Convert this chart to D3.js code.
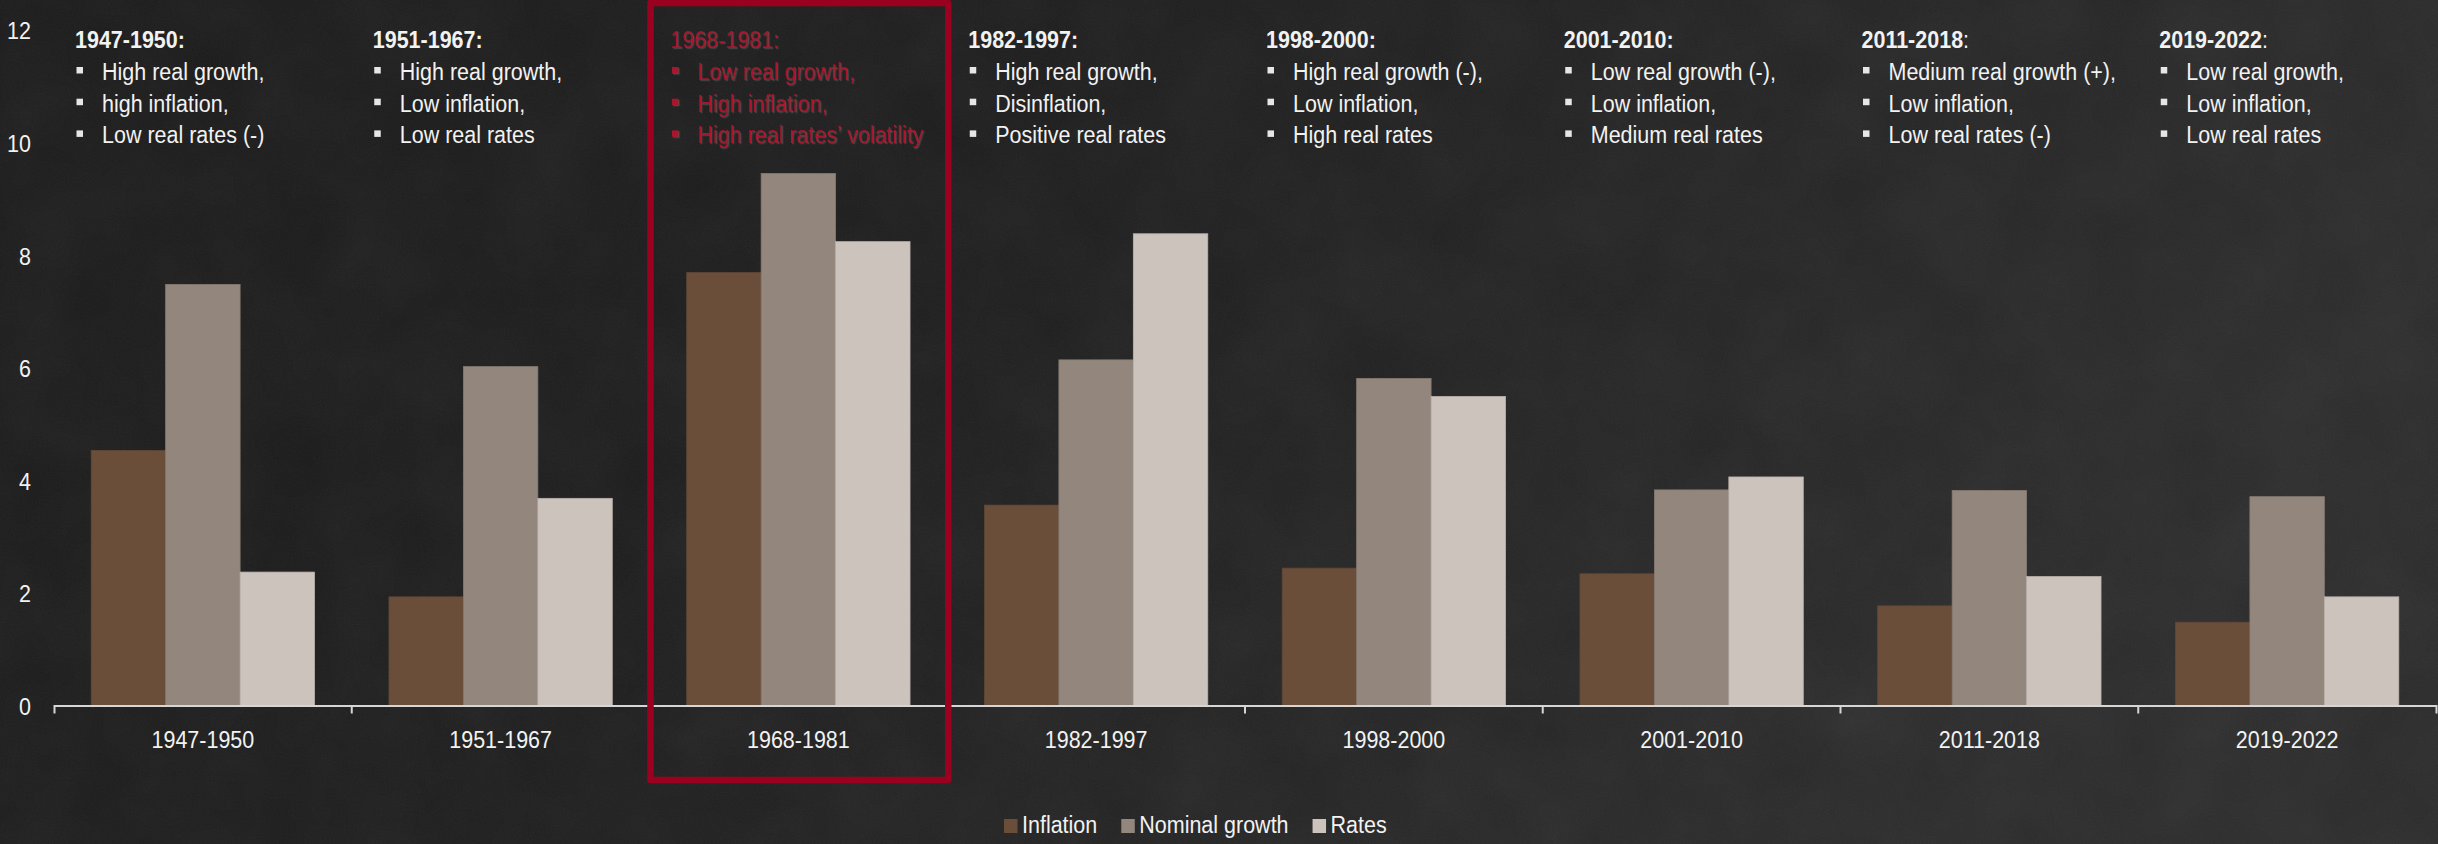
<!DOCTYPE html>
<html>
<head>
<meta charset="utf-8">
<script src="https://cdn.jsdelivr.net/npm/d3@7"></script>
<style>
  html, body { margin: 0; padding: 0; background: #1e1e1e; }
  svg { display: block; }
  text { font-family: "Liberation Sans", Arial, Helvetica, sans-serif; }
</style>
</head>
<body>
<script>
// ---- Data ----
const periods = ["1947-1950", "1951-1967", "1968-1981", "1982-1997",
                 "1998-2000", "2001-2010", "2011-2018", "2019-2022"];
const seriesNames = ["Inflation", "Nominal growth", "Rates"];
const inflation     = [4.53, 1.93, 7.69, 3.56, 2.44, 2.34, 1.77, 1.48];
const nominalGrowth = [7.48, 6.02, 9.45, 6.14, 5.81, 3.83, 3.82, 3.71];
const rates         = [2.37, 3.68, 8.24, 8.38, 5.49, 4.06, 2.29, 1.93];
const yTicks = [0, 2, 4, 6, 8, 10, 12];

// Regime description for each period
const headerColonBold = [true, true, false, true, true, true, false, false];
const notes = [
  ["High real growth,", "high inflation,", "Low real rates (-)"],
  ["High real growth,", "Low inflation,", "Low real rates"],
  ["Low real growth,", "High inflation,", "High real rates\u2019 volatility"],
  ["High real growth,", "Disinflation,", "Positive real rates"],
  ["High real growth (-),", "Low inflation,", "High real rates"],
  ["Low real growth (-),", "Low inflation,", "Medium real rates"],
  ["Medium real growth (+),", "Low inflation,", "Low real rates (-)"],
  ["Low real growth,", "Low inflation,", "Low real rates"]
];
const highlighted = "1968-1981";

const seriesValues = [inflation, nominalGrowth, rates];
const colors = ["#6b4e3a", "#93877d", "#cdc3bd"];

// ---- Layout ----
const W = 2438, H = 844;
const FS = 21.5;          // font size
const STRETCH = 1.15;     // tall type
const FONT = "Liberation Sans, Arial, sans-serif";
const textCol = "#f2f2f2";
const red = "#9c0021";
const redText = "#a8122d";

const svg = d3.select("body").append("svg")
  .attr("width", W).attr("height", H);

const defs = svg.append("defs");
const bg = defs.append("linearGradient").attr("id", "bg")
  .attr("x1", "0").attr("y1", "0").attr("x2", "1").attr("y2", "0.3");
bg.append("stop").attr("offset", "0").attr("stop-color", "#191919");
bg.append("stop").attr("offset", "0.45").attr("stop-color", "#1c1c1c");
bg.append("stop").attr("offset", "1").attr("stop-color", "#2a2a2a");

const grain = defs.append("filter").attr("id", "grain")
  .attr("x", 0).attr("y", 0).attr("width", "100%").attr("height", "100%");
grain.append("feTurbulence").attr("type", "fractalNoise")
  .attr("baseFrequency", 0.75).attr("numOctaves", 3).attr("seed", 7);
grain.append("feColorMatrix").attr("type", "saturate").attr("values", 0);

const mottle = defs.append("filter").attr("id", "mottle")
  .attr("x", 0).attr("y", 0).attr("width", "100%").attr("height", "100%");
mottle.append("feTurbulence").attr("type", "fractalNoise")
  .attr("baseFrequency", 0.012).attr("numOctaves", 3).attr("seed", 3);
mottle.append("feColorMatrix").attr("type", "saturate").attr("values", 0);

const shadow = defs.append("filter").attr("id", "redshadow")
  .attr("x", "-5%").attr("y", "-20%").attr("width", "110%").attr("height", "140%");
shadow.append("feDropShadow").attr("dx", 1.2).attr("dy", 1.2)
  .attr("stdDeviation", 0.4).attr("flood-color", "#9a9a9a").attr("flood-opacity", 0.25);

svg.append("rect").attr("width", W).attr("height", H).attr("fill", "url(#bg)");
svg.append("rect").attr("width", W).attr("height", H)
  .attr("filter", "url(#mottle)").attr("opacity", 0.05);
svg.append("rect").attr("width", W).attr("height", H)
  .attr("filter", "url(#grain)").attr("opacity", 0.06);

// ---- Scales ----
const x0 = d3.scaleBand().domain(periods).range([54, 2436])
  .paddingInner(0.25).paddingOuter(0.125);
const x1 = d3.scaleBand().domain(seriesNames).range([0, x0.bandwidth()]);
const y = d3.scaleLinear().domain([0, 12]).range([705.5, 30]);
const groupStart = p => x0(p) - x0.step() * x0.paddingInner() / 2;

// ---- Bars ----
const groups = svg.append("g").selectAll("g").data(periods).join("g")
  .attr("transform", p => `translate(${x0(p)},0)`);
groups.selectAll("rect")
  .data((p, i) => seriesNames.map((s, k) => ({ s, k, v: seriesValues[k][i] })))
  .join("rect")
  .attr("x", d => x1(d.s))
  .attr("y", d => y(d.v))
  .attr("width", x1.bandwidth())
  .attr("height", d => y(0) - y(d.v))
  .attr("fill", d => colors[d.k])
  .attr("stroke", d => d3.color(colors[d.k]).darker(0.25))
  .attr("stroke-width", 0.8);

// ---- Y axis (labels only) ----
const yAxis = svg.append("g").attr("transform", "translate(31,0)")
  .call(d3.axisLeft(y).tickValues(yTicks).tickSize(0).tickPadding(0));
yAxis.select(".domain").remove();
yAxis.selectAll("text")
  .attr("fill", textCol).attr("font-size", FS).attr("font-family", FONT)
  .attr("x", 0).attr("dy", "0.36em")
  .attr("transform", `scale(1,${STRETCH})`);

// ---- X axis ----
const xAxis = svg.append("g").attr("transform", `translate(0,${y(0)})`)
  .call(d3.axisBottom(x0).tickSize(0).tickSizeOuter(8));
xAxis.select(".domain").attr("stroke", "#d6d6d6").attr("stroke-width", 2);
xAxis.selectAll(".tick text")
  .attr("fill", textCol).attr("font-size", FS).attr("font-family", FONT)
  .attr("y", 0).attr("dy", 0)
  .attr("transform", `translate(0,42) scale(1,${STRETCH})`);
// boundary ticks between periods
xAxis.append("g").selectAll("line").data(periods.slice(1)).join("line")
  .attr("x1", p => groupStart(p)).attr("x2", p => groupStart(p))
  .attr("y1", 0).attr("y2", 8)
  .attr("stroke", "#d6d6d6").attr("stroke-width", 2);

// ---- Regime notes ----
const notesG = svg.append("g");
periods.forEach((p, i) => {
  const isHi = p === highlighted;
  const col = isHi ? redText : textCol;
  const gx = groupStart(p);
  const g = notesG.append("g").attr("filter", isHi ? "url(#redshadow)" : null);

  const head = g.append("text")
    .attr("transform", `translate(${gx + 21},47.5) scale(1,${STRETCH})`)
    .attr("font-size", FS).attr("fill", col);
  head.append("tspan").attr("font-weight", isHi ? "normal" : "bold").text(p);
  head.append("tspan").attr("font-weight", headerColonBold[i] ? "bold" : "normal").text(":");

  notes[i].forEach((line, j) => {
    const base = 80 + j * 31.7;
    g.append("rect")
      .attr("x", gx + 22.5).attr("y", base - 13)
      .attr("width", 6.5).attr("height", 6.5)
      .attr("fill", isHi ? redText : "#e6e6e6");
    g.append("text")
      .attr("transform", `translate(${gx + 48},${base}) scale(1,${STRETCH})`)
      .attr("font-size", FS).attr("fill", col)
      .text(line);
  });
});

// ---- Highlight frame ----
const hx = groupStart(highlighted);
svg.append("rect")
  .attr("x", hx + 1).attr("y", 3)
  .attr("width", x0.step()).attr("height", 777)
  .attr("fill", "none").attr("stroke", red).attr("stroke-width", 6.5)
  .attr("stroke-linejoin", "round");

// ---- Legend ----
const legend = svg.append("g").attr("transform", "translate(1004,833)");
let lx = 0;
seriesNames.forEach((s, k) => {
  legend.append("rect").attr("x", lx).attr("y", -14)
    .attr("width", 13.5).attr("height", 14).attr("fill", colors[k]);
  const t = legend.append("text")
    .attr("transform", `translate(${lx + 18},0) scale(1,${STRETCH})`)
    .attr("font-size", FS).attr("fill", textCol).text(s);
  lx += 18 + t.node().getComputedTextLength() + 24;
});
</script>
</body>
</html>
